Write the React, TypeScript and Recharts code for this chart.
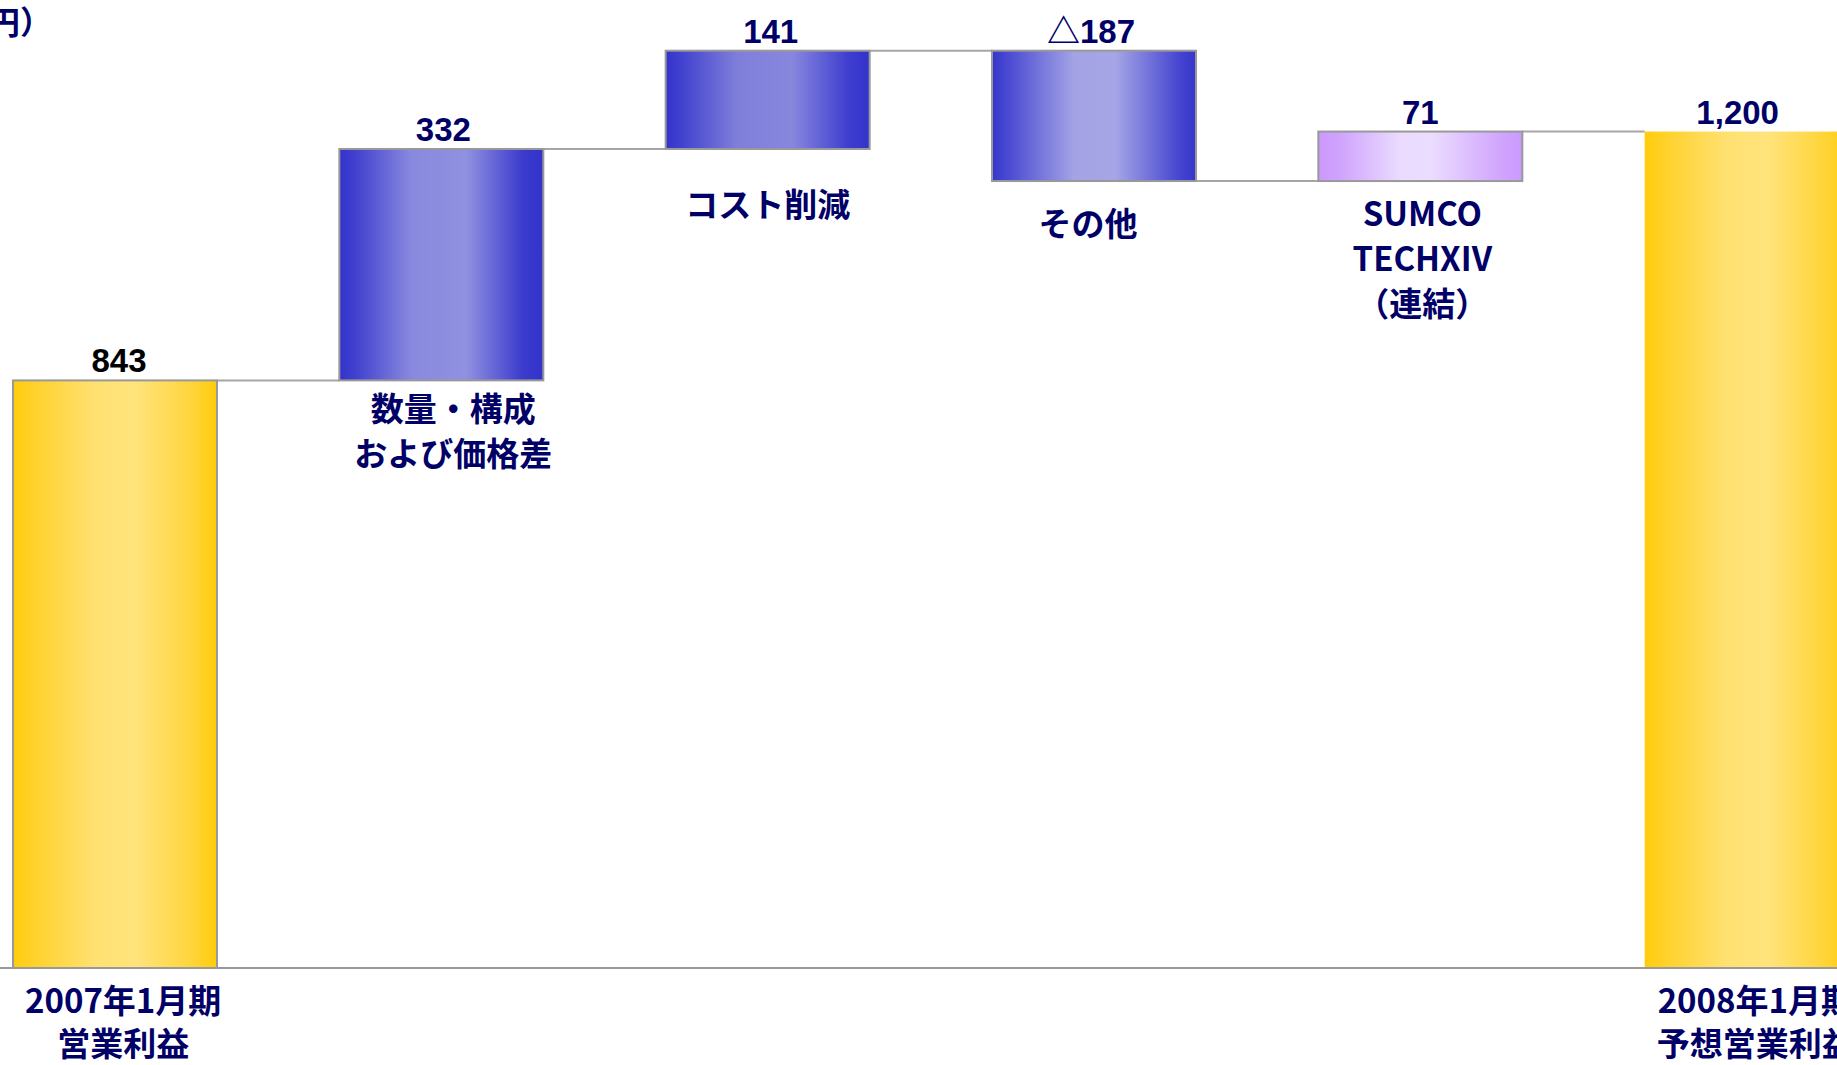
import { ComposedChart, Bar, XAxis, YAxis } from 'recharts';

// 営業利益の増減要因（億円）
const categories = [
  '2007年1月期\n営業利益',
  '数量・構成\nおよび価格差',
  'コスト削減',
  'その他',
  'SUMCO\nTECHXIV\n（連結）',
  '2008年1月期\n予想営業利益',
];
const startProfit = 843;
const changes = [332, 141, -187, 71];
const endProfit = 1200;
const valueLabels = ['843', '332', '141', '△187', '71', '1,200'];

// 見た目の設定
const CHART_W = 1958;
const BAR_SIZE = 204;
const fillKeys = ['gold', 'blue', 'blue2', 'blue3', 'violet', 'gold'];
const valueDx = [4, 2, 3, -3, 0, -9];
const labelDx = [8, 12, 0, -6, 2, 9];
const labelDy = [0, 41, 68, 55, 45, 0];
const NAVY = '#000066';
const JP_FONT = "'Noto Sans CJK JP', 'Liberation Sans', sans-serif";
const NUM_FONT = "'Liberation Sans', Arial, 'Noto Sans CJK JP', sans-serif";

const gradients: Record<string, [number, string][]> = {
  gold: [[0, '#FFCC0A'], [0.1, '#FFD12A'], [0.4, '#FFE171'], [0.6, '#FFE47C'], [0.88, '#FFD43A'], [1, '#FFCC0A']],
  blue: [[0, '#3333CC'], [0.08, '#4141CF'], [0.35, '#8888DE'], [0.62, '#9191E1'], [0.9, '#3B3BCD'], [1, '#3333CC']],
  blue2: [[0, '#3333CC'], [0.08, '#4242D0'], [0.35, '#7F7FDB'], [0.62, '#8787DE'], [0.9, '#3D3DCE'], [1, '#3333CC']],
  blue3: [[0, '#3535CC'], [0.1, '#5050D3'], [0.4, '#A2A2E5'], [0.6, '#A6A6E6'], [0.92, '#4545D0'], [1, '#3535CC']],
  violet: [[0, '#CC99FF'], [0.1, '#CFA2FD'], [0.4, '#EADBFF'], [0.55, '#EBDDFF'], [0.9, '#D0A4FD'], [1, '#CC99FF']],
};

// ウォーターフォール用のテーブル
let running = startProfit;
const rows: { name: string; range: [number, number]; level: number }[] = [
  { name: categories[0], range: [0, startProfit], level: startProfit },
];
changes.forEach((c, i) => {
  const from = running;
  running += c;
  rows.push({ name: categories[i + 1], range: [Math.min(from, running), Math.max(from, running)], level: running });
});
rows.push({ name: categories[categories.length - 1], range: [0, endProfit], level: endProfit });

const lastIndex = rows.length - 1;
const gapToNext = CHART_W / rows.length - BAR_SIZE;

const WaterfallBar = (props: any) => {
  const { x, y, width, height, index, payload } = props;
  const cx = x + width / 2;
  const bottom = y + height;
  const isTotal = index === 0 || index === lastIndex;
  const lines = categories[index].split('\n');
  // 次の棒へのつなぎ線（この棒の終点の高さ）
  const endY = payload.level === payload.range[1] ? y : bottom;
  return (
    <g>
      {index !== lastIndex && (
        <line x1={x + width} x2={x + width + gapToNext} y1={endY} y2={endY} stroke="#A6A6A6" strokeWidth={2} />
      )}
      <rect
        x={x}
        y={y}
        width={width}
        height={height}
        fill={`url(#fill-${fillKeys[index]})`}
        stroke={index === lastIndex ? 'none' : '#999999'}
        strokeWidth={2}
      />
      <text
        x={cx + valueDx[index]}
        y={y - 8}
        textAnchor="middle"
        fontFamily={NUM_FONT}
        fontWeight="bold"
        fontSize={33}
        fill={index === 0 ? '#000000' : NAVY}
      >
        {valueLabels[index]}
      </text>
      {!isTotal && (
        <text
          x={cx + labelDx[index]}
          y={bottom + labelDy[index]}
          textAnchor="middle"
          fontFamily={JP_FONT}
          fontWeight="bold"
          fontSize={33}
          fill={NAVY}
        >
          {lines.map((line, i) => (
            <tspan key={i} x={cx + labelDx[index]} dy={i === 0 ? 0 : 45}>
              {line}
            </tspan>
          ))}
        </text>
      )}
    </g>
  );
};

const CategoryTick = (props: any) => {
  const { x, y, index, payload } = props;
  if (index !== 0 && index !== lastIndex) return <g />;
  const lines = String(payload.value).split('\n');
  return (
    <text
      x={x + labelDx[index]}
      y={y + 45}
      textAnchor="middle"
      fontFamily={JP_FONT}
      fontWeight="bold"
      fontSize={33}
      fill={NAVY}
    >
      {lines.map((line, i) => (
        <tspan key={i} x={x + labelDx[index]} dy={i === 0 ? 0 : 43}>
          {line}
        </tspan>
      ))}
    </text>
  );
};

export default function App() {
  return (
    <div style={{ position: 'absolute', left: 0, top: 0, width: 1837, height: 1065, overflow: 'hidden', background: '#ffffff' }}>
      <div
        style={{
          position: 'absolute',
          right: 1837 - 52,
          top: 0,
          whiteSpace: 'nowrap',
          fontFamily: JP_FONT,
          fontWeight: 'bold',
          fontSize: 32,
          lineHeight: '40px',
          color: NAVY,
        }}
      >
        （単位：億円）
      </div>
      <div style={{ position: 'absolute', left: -48, top: 0 }}>
        <ComposedChart width={CHART_W} height={1065} data={rows} margin={{ top: 27, right: 0, bottom: 0, left: 0 }}>
          <defs>
            {Object.entries(gradients).map(([key, stops]) => (
              <linearGradient key={key} id={`fill-${key}`} x1="0" y1="0" x2="1" y2="0">
                {stops.map(([offset, color], i) => (
                  <stop key={i} offset={offset} stopColor={color} />
                ))}
              </linearGradient>
            ))}
          </defs>
          <XAxis
            dataKey="name"
            interval={0}
            height={97}
            tickSize={0}
            tickMargin={0}
            tickLine={false}
            axisLine={{ stroke: '#999999', strokeWidth: 2 }}
            tick={<CategoryTick />}
          />
          <YAxis hide domain={[0, 1350]} />
          <Bar dataKey="range" barSize={BAR_SIZE} shape={<WaterfallBar />} isAnimationActive={false} />
        </ComposedChart>
      </div>
    </div>
  );
}
